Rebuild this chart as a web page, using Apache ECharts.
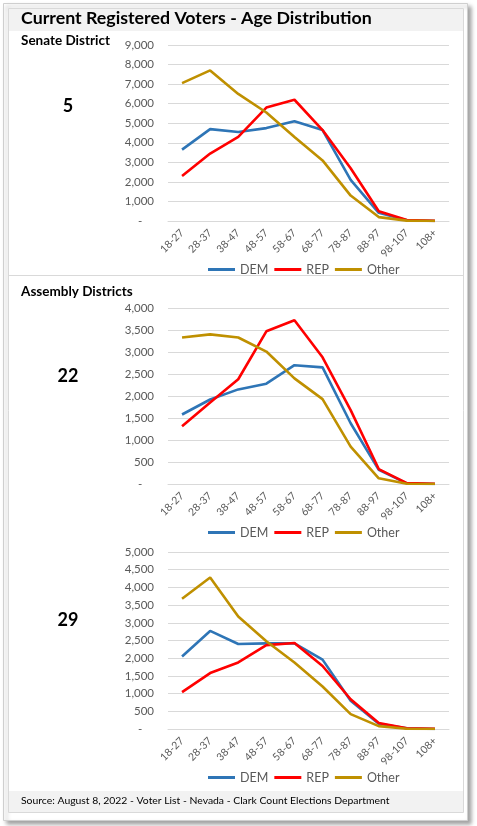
<!DOCTYPE html>
<html><head><meta charset="utf-8">
<script src="https://cdn.jsdelivr.net/npm/echarts@6/dist/echarts.min.js"></script>
<style>html,body{margin:0;padding:0;background:#fff}#c{width:477px;height:826px}</style>
</head><body><div id="c"></div>
<script>
const categories = ['18-27','28-37','38-47','48-57','58-67','68-77','78-87','88-97','98-107','108+'];
const seriesNames = ['DEM','REP','Other'];
// Senate District 5
const sd5Dem   = [3650, 4700, 4550, 4750, 5100, 4650, 2100, 420, 40, 2];
const sd5Rep   = [2300, 3450, 4300, 5800, 6200, 4650, 2700, 500, 50, 5];
const sd5Other = [7050, 7700, 6500, 5550, 4300, 3100, 1300, 200, 20, 1];
// Assembly District 22
const ad22Dem   = [1580, 1920, 2150, 2280, 2700, 2650, 1380, 320, 15, 1];
const ad22Rep   = [1310, 1850, 2380, 3470, 3720, 2880, 1680, 340, 20, 5];
const ad22Other = [3330, 3400, 3330, 3010, 2400, 1930, 850, 130, 5, 0];
// Assembly District 29
const ad29Dem   = [2050, 2770, 2400, 2420, 2420, 1960, 800, 150, 20, 1];
const ad29Rep   = [1040, 1580, 1880, 2370, 2430, 1780, 840, 170, 20, 5];
const ad29Other = [3680, 4280, 3180, 2480, 1880, 1200, 420, 80, 5, 0];
const yMax = [9000, 4000, 5000];
const yStep = [1000, 500, 500];
const panelLabels = ['5', '22', '29'];

const colors = ['#2e75b6', '#ff0000', '#bf9000'];
const panels = [[sd5Dem, sd5Rep, sd5Other],[ad22Dem, ad22Rep, ad22Other],[ad29Dem, ad29Rep, ad29Other]];
const gridTops = [45, 308, 552];
const gridHeights = [176, 176, 177];
const legendTops = [258, 521, 766];
const labelTops = [97, 367, 611];
const FONT = 'Lato';

const grids = [], xAxes = [], yAxes = [], series = [], legends = [];
panels.forEach((p, i) => {
  grids.push({left: 168, right: 28, top: gridTops[i], height: gridHeights[i]});
  xAxes.push({type: 'category', gridIndex: i, data: categories, boundaryGap: true,
    axisLine: {show: true, lineStyle: {color: '#d9d9d9'}}, axisTick: {show: false},
    axisLabel: {rotate: 45, margin: 10, color: '#595959', fontSize: 10.5, fontFamily: FONT, interval: 0}});
  yAxes.push({type: 'value', gridIndex: i, min: 0, max: yMax[i], interval: yStep[i],
    axisLine: {show: false}, axisTick: {show: false},
    splitLine: {lineStyle: {color: '#d9d9d9'}},
    axisLabel: {margin: 14, color: '#595959', fontSize: 11.5, fontFamily: FONT,
      formatter: v => v === 0 ? '-    ' : v.toLocaleString('en-US')}});
  p.forEach((d, k) => {
    series.push({name: seriesNames[k], type: 'line', xAxisIndex: i, yAxisIndex: i, data: d,
      symbol: 'none', smooth: false, color: colors[k],
      lineStyle: {width: 2.6, color: colors[k]}});
  });
  legends.push({data: seriesNames, left: 203, top: legendTops[i], itemWidth: 27, itemHeight: 3,
    icon: 'rect', itemGap: 6, textStyle: {color: '#595959', fontSize: 12.5, fontFamily: FONT}});
});

const titles = [
  {text: 'Current Registered Voters - Age Distribution', left: 21, top: 9,
    textStyle: {fontFamily: FONT, fontWeight: 'bold', fontSize: 17.8, color: '#000'}},
  {text: 'Senate District', left: 21, top: 34,
    textStyle: {fontFamily: FONT, fontWeight: 'bold', fontSize: 13.5, color: '#000'}},
  {text: 'Assembly Districts', left: 21, top: 285,
    textStyle: {fontFamily: FONT, fontWeight: 'bold', fontSize: 13.5, color: '#000'}},
  {text: 'Source: August 8, 2022 - Voter List - Nevada - Clark Count Elections Department', left: 21, top: 796,
    textStyle: {fontFamily: FONT, fontWeight: 'normal', fontSize: 10.4, color: '#000'}}
];
panelLabels.forEach((t, i) => {
  titles.push({text: t, left: 68, top: labelTops[i], textAlign: 'center',
    textStyle: {fontFamily: FONT, fontWeight: 'bold', fontSize: 18, color: '#000'}});
});
titles.forEach(t => { t.padding = 0; });

const chart = echarts.init(document.getElementById('c'), null, {renderer: 'canvas'});
chart.setOption({
  backgroundColor: '#fff',
  animation: false,
  graphic: [
    {type: 'rect', z: -10, shape: {x: 3.5, y: 3.5, width: 464, height: 817},
      style: {fill: '#fff', stroke: '#cfcfcf', lineWidth: 1, shadowBlur: 4, shadowOffsetX: 3, shadowOffsetY: 3, shadowColor: 'rgba(0,0,0,0.35)'}},
    {type: 'rect', z: -9, shape: {x: 8.5, y: 8.5, width: 455, height: 804},
      style: {fill: '#fff', stroke: '#d9d9d9', lineWidth: 1}},
    {type: 'rect', z: -8, shape: {x: 9, y: 9, width: 454, height: 22}, style: {fill: '#f2f2f2'}},
    {type: 'rect', z: -8, shape: {x: 9, y: 791, width: 454, height: 21}, style: {fill: '#f2f2f2'}},
    {type: 'line', z: -8, shape: {x1: 9, y1: 275.5, x2: 463, y2: 275.5}, style: {stroke: '#d9d9d9', lineWidth: 1}}
  ],
  title: titles,
  legend: legends,
  grid: grids,
  xAxis: xAxes,
  yAxis: yAxes,
  series: series
});
</script></body></html>
